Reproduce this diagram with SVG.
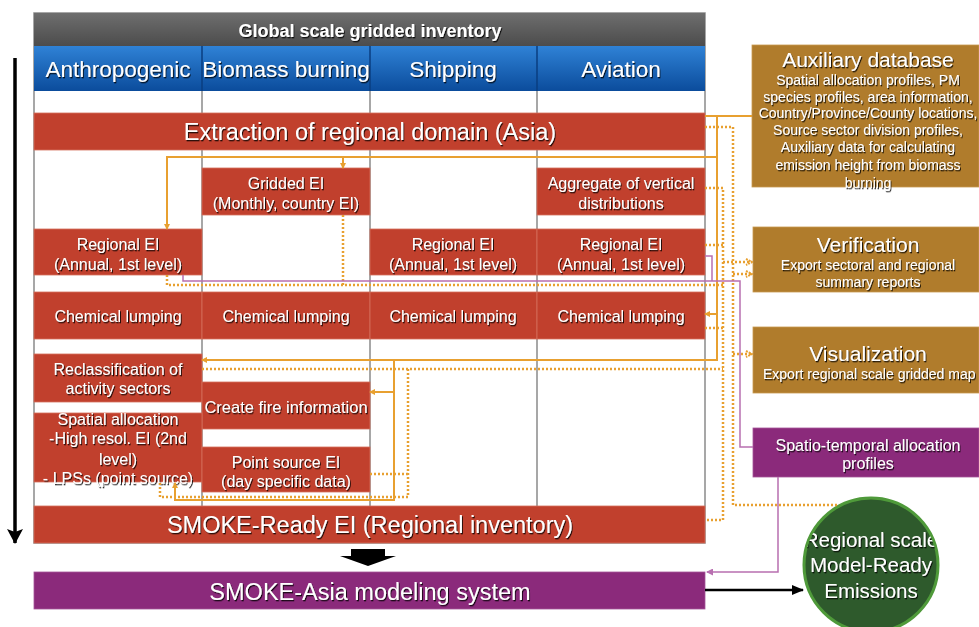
<svg xmlns="http://www.w3.org/2000/svg" width="979" height="627" viewBox="0 0 979 627">
<defs>
<style>
text{font-family:"Liberation Sans",Arial,sans-serif;fill:#fff;text-anchor:middle;filter:url(#ts)}
.red{fill:#c1402d;stroke:#d4705c;stroke-width:0.8}
.brown{fill:#b07c2c;stroke:#c99a50;stroke-width:0.8}
.purple{fill:#8b2a7b;stroke:#a5559a;stroke-width:0.8}
.big{font-size:23.5px}
.md{font-size:16px}
.sm{font-size:14px}
.div{stroke:#8a8a8a;stroke-width:1.5}
.os{fill:none;stroke:#e8a030;stroke-width:2}
.od{fill:none;stroke:#e8a030;stroke-width:2.5;stroke-dasharray:2 2}
.pl{fill:none;stroke:#b86fb0;stroke-width:1.5}
</style>
<filter id="ts" x="-5%" y="-20%" width="110%" height="150%">
<feDropShadow dx="1" dy="1.3" stdDeviation="0.7" flood-color="#000" flood-opacity="0.8"/>
</filter>
<linearGradient id="gGray" x1="0" y1="0" x2="0" y2="1"><stop offset="0" stop-color="#6e6e6e"/><stop offset="1" stop-color="#4c4c4c"/></linearGradient>
<linearGradient id="gBlue" x1="0" y1="0" x2="0" y2="1"><stop offset="0" stop-color="#2f82d6"/><stop offset="1" stop-color="#0b4c9c"/></linearGradient>
<marker id="ao" markerWidth="6" markerHeight="6" refX="5" refY="3" orient="auto" markerUnits="userSpaceOnUse"><path d="M0,0 L6,3 L0,6 z" fill="#e8a030"/></marker>
<marker id="aod" markerWidth="8" markerHeight="8" refX="7" refY="4" orient="auto" markerUnits="userSpaceOnUse"><path d="M1,1 L7,4 L1,7" fill="none" stroke="#e8a030" stroke-width="2" stroke-dasharray="2 1"/></marker>
<marker id="ap" markerWidth="7" markerHeight="7" refX="6" refY="3.5" orient="auto" markerUnits="userSpaceOnUse"><path d="M0,0 L7,3.5 L0,7 z" fill="#b86fb0"/></marker>
<marker id="ak" markerWidth="12" markerHeight="12" refX="11" refY="6" orient="auto" markerUnits="userSpaceOnUse"><path d="M0,1 L12,6 L0,11 z" fill="#000"/></marker>
<marker id="akb" markerWidth="16" markerHeight="18" refX="14" refY="8" orient="auto" markerUnits="userSpaceOnUse"><path d="M0,0 L15,8 L0,16 L3,8 z" fill="#000"/></marker>
<clipPath id="cc"><circle cx="871" cy="565" r="66"/></clipPath>
</defs>

<rect width="979" height="627" fill="#fff"/>

<g id="table">
<rect x="34" y="13" width="671" height="530" fill="#fff" stroke="#8a8a8a" stroke-width="1.5"/>
<line class="div" x1="202" y1="46" x2="202" y2="506"/>
<line class="div" x1="370" y1="46" x2="370" y2="506"/>
<line class="div" x1="537" y1="46" x2="537" y2="506"/>
</g>

<g id="header">
<rect x="34" y="13" width="671" height="33" fill="url(#gGray)"/>
<text x="370" y="37" style="font-size:18px;font-weight:bold">Global scale gridded inventory</text>
</g>
<g id="sectors">
<rect x="34" y="46" width="671" height="45" fill="url(#gBlue)"/>
<line x1="202" y1="46" x2="202" y2="91" stroke="#0a3e80" stroke-width="1.5"/>
<line x1="370" y1="46" x2="370" y2="91" stroke="#0a3e80" stroke-width="1.5"/>
<line x1="537" y1="46" x2="537" y2="91" stroke="#0a3e80" stroke-width="1.5"/>
<text x="118" y="77" style="font-size:22.5px">Anthropogenic</text>
<text x="286" y="77" style="font-size:22.5px">Biomass burning</text>
<text x="453" y="77" style="font-size:22.5px">Shipping</text>
<text x="621" y="77" style="font-size:22.5px">Aviation</text>
</g>

<g id="extraction"><rect class="red" x="34" y="113" width="671" height="37"/><text class="big" x="370" y="140">Extraction of regional domain (Asia)</text></g>

<g id="gridded"><rect class="red" x="202" y="168" width="168" height="47"/><text class="md" x="286" y="188.5">Gridded EI</text><text class="md" x="286" y="208.5">(Monthly, country EI)</text></g>
<g id="aggregate"><rect class="red" x="537" y="168" width="168" height="47"/><text class="md" x="621" y="188.5">Aggregate of vertical</text><text class="md" x="621" y="208.5">distributions</text></g>

<g id="regional-anthro"><rect class="red" x="34" y="229" width="168" height="46"/><text class="md" x="118" y="249.5">Regional EI</text><text class="md" x="118" y="269.5">(Annual, 1st level)</text></g>
<g id="regional-ship"><rect class="red" x="370" y="229" width="167" height="46"/><text class="md" x="453" y="249.5">Regional EI</text><text class="md" x="453" y="269.5">(Annual, 1st level)</text></g>
<g id="regional-avia"><rect class="red" x="537" y="229" width="168" height="46"/><text class="md" x="621" y="249.5">Regional EI</text><text class="md" x="621" y="269.5">(Annual, 1st level)</text></g>

<g id="chem-anthro"><rect class="red" x="34" y="292" width="168" height="47"/><text class="md" x="118" y="321.5">Chemical lumping</text></g>
<g id="chem-bio"><rect class="red" x="202" y="292" width="168" height="47"/><text class="md" x="286" y="321.5">Chemical lumping</text></g>
<g id="chem-ship"><rect class="red" x="370" y="292" width="167" height="47"/><text class="md" x="453" y="321.5">Chemical lumping</text></g>
<g id="chem-avia"><rect class="red" x="537" y="292" width="168" height="47"/><text class="md" x="621" y="321.5">Chemical lumping</text></g>

<g id="reclass"><rect class="red" x="34" y="354" width="168" height="48"/><text class="md" x="118" y="374.5">Reclassification of</text><text class="md" x="118" y="393.5">activity sectors</text></g>
<g id="fire"><rect class="red" x="202" y="382" width="168" height="47"/><text class="md" x="286" y="413" style="font-size:16.5px">Create fire information</text></g>
<g id="spatial"><rect class="red" x="34" y="413" width="168" height="69"/><text class="md" x="118" y="425">Spatial allocation</text><text class="md" x="118" y="444">-High resol. EI (2nd</text><text class="md" x="118" y="465">level)</text><text class="md" x="118" y="484">- LPSs (point source)</text></g>
<g id="pointsrc"><rect class="red" x="202" y="447" width="168" height="45"/><text class="md" x="286" y="468">Point source EI</text><text class="md" x="286" y="487">(day specific data)</text></g>

<g id="smoke-ready"><rect class="red" x="34" y="506" width="671" height="37"/><text class="big" x="370" y="533">SMOKE-Ready EI (Regional inventory)</text></g>
<g id="smoke-asia"><rect class="purple" x="34" y="572" width="671" height="37"/><text class="big" x="370" y="600">SMOKE-Asia modeling system</text></g>

<g id="aux"><rect class="brown" x="752" y="45" width="227" height="142"/>
<text x="868" y="66.5" style="font-size:21px">Auxiliary database</text>
<text class="sm" x="868" y="85">Spatial allocation profiles, PM</text>
<text class="sm" x="868" y="102">species profiles, area information,</text>
<text class="sm" x="868" y="118">Country/Province/County locations,</text>
<text class="sm" x="868" y="135">Source sector division profiles,</text>
<text class="sm" x="868" y="152">Auxiliary data for calculating</text>
<text class="sm" x="868" y="170">emission height from biomass</text>
<text class="sm" x="868" y="188">burning</text>
</g>
<g id="verification"><rect class="brown" x="753" y="227" width="226" height="65"/>
<text x="868" y="251.5" style="font-size:21px">Verification</text>
<text class="sm" x="868" y="270">Export sectoral and regional</text>
<text class="sm" x="868" y="287">summary reports</text>
</g>
<g id="visualization"><rect class="brown" x="753" y="327" width="226" height="66"/>
<text x="868" y="361" style="font-size:21px">Visualization</text>
<text class="sm" x="763" y="379" style="text-anchor:start">Export regional scale gridded map</text>
</g>
<g id="spatiotemporal"><rect class="purple" x="753" y="428" width="226" height="49"/>
<text x="868" y="451" style="font-size:16px">Spatio-temporal allocation</text>
<text x="868" y="469" style="font-size:16px">profiles</text>
</g>
<g id="model-ready">
<circle cx="871" cy="565" r="67" fill="#2e5a2c" stroke="#4f9a3a" stroke-width="3"/>
<g clip-path="url(#cc)">
<text x="871" y="547" style="font-size:20.5px">Regional scale</text>
<text x="871" y="572" style="font-size:20.5px">Model-Ready</text>
<text x="871" y="598" style="font-size:20.5px">Emissions</text>
</g>
</g>

<g id="connectors">
<!-- left timeline arrow -->
<line x1="15" y1="58" x2="15" y2="543" stroke="#000" stroke-width="3.5" marker-end="url(#akb)"/>
<!-- block arrow -->
<polygon points="351,549 385,549 385,556 396,556 368,566 340,556 351,556" fill="#000"/>
<!-- black arrow to circle -->
<line x1="705" y1="590" x2="803" y2="590" stroke="#000" stroke-width="2.5" marker-end="url(#ak)"/>

<!-- solid orange -->
<polyline class="os" points="752,116 705,116"/>
<polyline class="os" points="717,116 717,360 202,360" marker-end="url(#ao)"/>
<polyline class="os" points="717,157 167,157 167,229" marker-end="url(#ao)"/>
<line class="os" x1="343" y1="157" x2="343" y2="168" marker-end="url(#ao)"/>
<line class="os" x1="717" y1="314" x2="705" y2="314" marker-end="url(#ao)"/>
<polyline class="os" points="394,360 394,500 175,500 175,483" marker-end="url(#ao)"/>
<line class="os" x1="394" y1="392" x2="370" y2="392" marker-end="url(#ao)"/>

<!-- dotted orange -->
<polyline class="od" points="705,127 733,127 733,505 838,505"/>
<polyline class="od" points="705,188 723,188 723,520 705,520"/>
<line class="od" x1="705" y1="245" x2="723" y2="245"/>
<polyline class="od" points="167,275 167,285 723,285"/>
<line class="od" x1="343" y1="215" x2="343" y2="285"/>
<line class="od" x1="705" y1="328" x2="723" y2="328"/>
<line class="od" x1="202" y1="369" x2="723" y2="369"/>
<polyline class="od" points="408,369 408,497 160,497 160,482"/>
<line class="od" x1="370" y1="474" x2="408" y2="474"/>
<line class="od" x1="723" y1="262" x2="752" y2="262" marker-end="url(#aod)"/>
<line class="od" x1="733" y1="274" x2="752" y2="274" marker-end="url(#aod)"/>
<line class="od" x1="733" y1="354" x2="752" y2="354" marker-end="url(#aod)"/>

<!-- purple -->
<polyline class="pl" points="183,275 183,281 740,281 740,447 753,447"/>
<polyline class="pl" points="705,256 712,256 712,281"/>
<polyline class="pl" points="778,477 778,572 707,572" marker-end="url(#ap)"/>
</g>
</svg>
